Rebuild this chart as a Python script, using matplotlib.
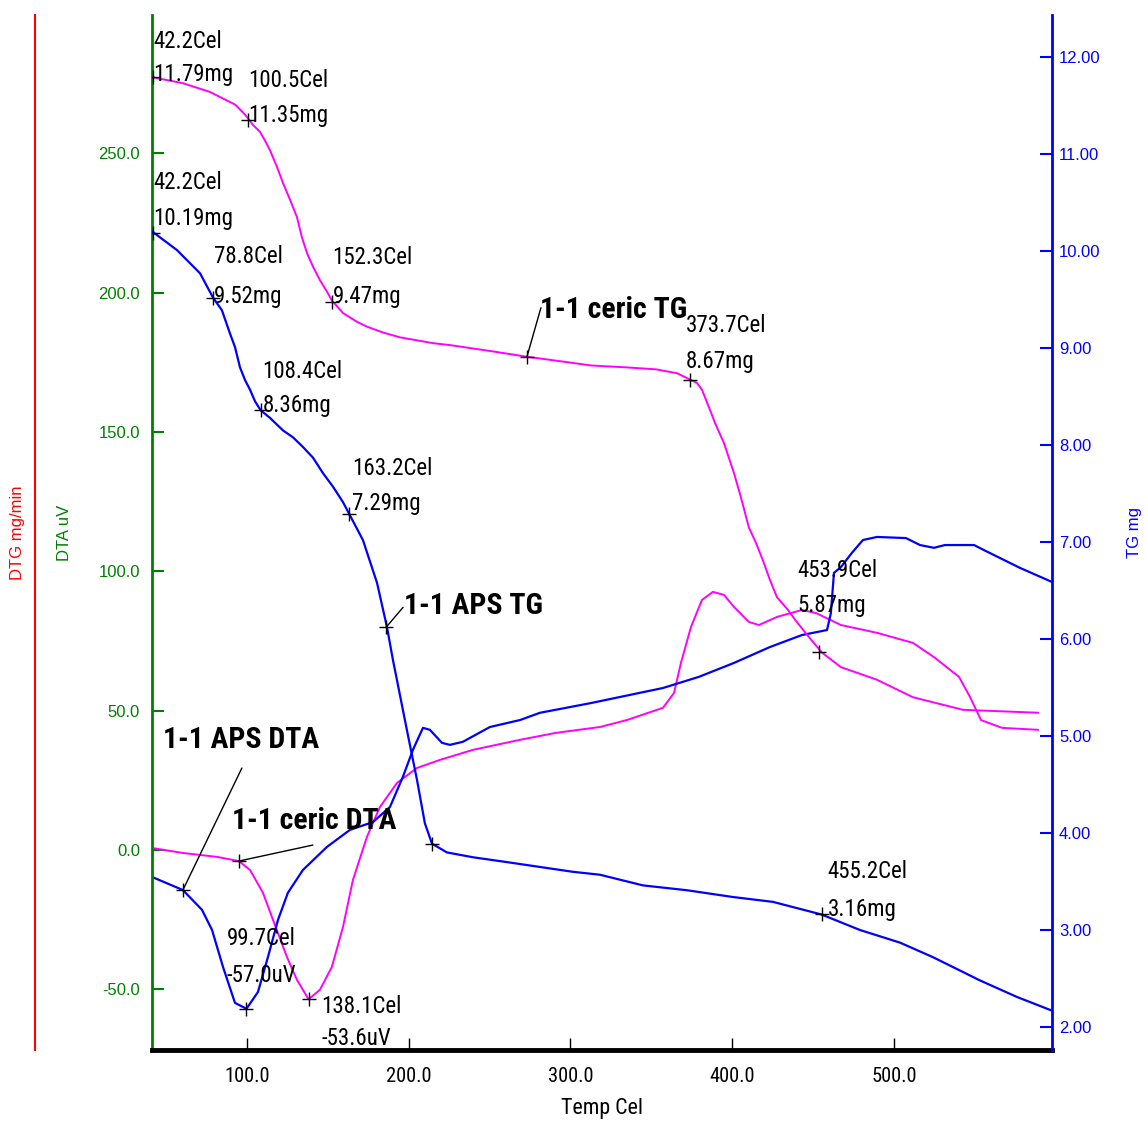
import os
import matplotlib
matplotlib.use('Agg')
import matplotlib.pyplot as plt
from matplotlib import font_manager as fm
from matplotlib.font_manager import FontProperties
from matplotlib.textpath import TextToPath

# ---------------- data ----------------
ceric_tg_T = [41.9, 60.4, 77.1, 92.6, 97.5, 100.6, 103.7, 108, 111.1, 114.2, 118.5, 122.3, 126.6, 130.9,
              134, 137.1, 140.8, 145.1, 149.5, 152.5, 159.4, 168, 174.2, 184.1, 194.6, 215, 225.5, 250,
              273.1, 295.4, 312.7, 334.9, 352.9, 365.9, 374.5, 378.2, 381.3, 385.6, 389.3, 394.9, 401.1,
              405.4, 410.3, 414.7, 419, 423.3, 427.7, 434.5, 438.8, 447.4, 455.5, 467.2, 489.5, 511.7,
              542.7, 589]
ceric_tg = [11.79, 11.73, 11.64, 11.51, 11.43, 11.37, 11.30, 11.23, 11.14, 11.04, 10.87, 10.70, 10.53, 10.35,
            10.14, 9.98, 9.84, 9.70, 9.58, 9.49, 9.36, 9.27, 9.22, 9.16, 9.11, 9.05, 9.03, 8.97,
            8.91, 8.86, 8.82, 8.80, 8.78, 8.74, 8.67, 8.64, 8.57, 8.39, 8.23, 8.02, 7.71,
            7.46, 7.15, 6.99, 6.81, 6.61, 6.43, 6.30, 6.20, 6.02, 5.86, 5.71, 5.58, 5.40,
            5.27, 5.24]

ceric_dta_T = [41.3, 60.4, 81.5, 95.0, 101.9, 109.9, 116.1, 124.7, 130.9, 138.1, 145.1, 152.5, 159.4, 165.5,
               174.2, 182.2, 192.7, 205.1, 219.3, 239.7, 268.8, 291, 318.2, 334.9, 357.2, 364, 368.3, 374.5,
               381.3, 388.1, 394.9, 401.1, 410.3, 416.5, 427.7, 443.1, 451.8, 467.2, 489.5, 511.7, 524.7,
               540.2, 547, 553.8, 566.8, 589]
ceric_dta = [0.7, -1.1, -2.5, -4.0, -7.2, -15.4, -25.1, -38.4, -46.6, -53.6, -50.2, -42, -27.6, -10.8,
             4.7, 15.4, 24, 29.4, 32.3, 35.9, 39.5, 42, 44.1, 46.6, 51, 56.3, 67.1, 80,
             89.7, 92.6, 91.5, 87.2, 81.8, 80.7, 83.6, 86.1, 85, 80.7, 77.9, 74.3, 69.2,
             62.1, 54.9, 46.6, 43.8, 43.1]

aps_tg_T = [41.5, 56.7, 71, 79, 84.5, 89.5, 92.6, 95.7, 98.8, 101.9, 105, 108.4, 114.2, 122.3, 128.4,
            134.6, 140.8, 147, 153.2, 159.4, 163.2, 171.7, 180.4, 186.6, 190.3, 192.7, 198.9, 205.1,
            210.0, 214.4, 223.6, 239.7, 260.7, 301.5, 318.2, 344.8, 372, 400.5, 425.2, 455.2, 479,
            503.7, 524.1, 553.2, 576, 597.5]
aps_tg = [10.20, 10.01, 9.77, 9.52, 9.39, 9.15, 9.01, 8.80, 8.67, 8.57, 8.45, 8.36, 8.28, 8.15, 8.08,
          7.98, 7.87, 7.71, 7.57, 7.41, 7.29, 7.02, 6.58, 6.12, 5.78, 5.58, 5.06, 4.55,
          4.10, 3.89, 3.80, 3.75, 3.70, 3.60, 3.57, 3.46, 3.41, 3.34, 3.29, 3.16, 3.0,
          2.87, 2.72, 2.48, 2.31, 2.17]

aps_dta_T = [41.3, 60.4, 72.2, 78.4, 85.2, 92.6, 99.7, 106.8, 113, 119.2, 125.3, 134.6, 149.5, 163.7, 177.9,
             188.4, 196.4, 202.6, 208.8, 213.1, 220.6, 225.5, 233.5, 250.2, 268.8, 281.1, 312.7, 357.2,
             379.4, 401.1, 423.3, 443.1, 458.6, 461, 462.9, 467.2, 474, 480.8, 489.5, 507.4, 516.1, 524.7,
             531.5, 549.5, 555.6, 577.9, 597.5]
aps_dta = [-9.7, -14.4, -21.5, -28.7, -42.0, -54.9, -57.0, -51, -38.4, -25.1, -15.4, -7.2, 1.1, 7.2, 10.0,
           15.4, 26.2, 35.9, 43.8, 43.1, 38.4, 37.7, 38.8, 44.1, 46.6, 49.2, 52.7, 58.1,
           62.1, 67.1, 72.8, 77.1, 78.9, 85, 99.4, 101.5, 106.6, 111.2, 112.3, 111.9, 109.4, 108.4,
           109.4, 109.4, 107.6, 101.2, 96.2]

# labelled points
label_T = [42.2, 100.5, 42.2, 78.8, 152.3, 373.7, 108.4, 163.2, 453.9, 455.2, 99.7, 138.1]
label_val = [11.79, 11.35, 10.19, 9.52, 9.47, 8.67, 8.36, 7.29, 5.87, 3.16, -57.0, -53.6]
label_unit = ['mg', 'mg', 'mg', 'mg', 'mg', 'mg', 'mg', 'mg', 'mg', 'mg', 'uV', 'uV']

# curve name labels
name_text = ['1-1 ceric TG', '1-1 APS TG', '1-1 APS DTA', '1-1 ceric DTA']
name_T = [273.1, 186.0, 60.4, 95.0]
name_val = [8.91, 6.12, -14.4, -4.0]
name_unit = ['mg', 'mg', 'uV', 'uV']

extra_T = [214.4]
extra_val = [3.89]

x_ticks = [100, 200, 300, 400, 500]
dta_ticks = [-50, 0, 50, 100, 150, 200, 250]
tg_ticks = [2, 3, 4, 5, 6, 7, 8, 9, 10, 11, 12]

# ---------------- fonts ----------------
def find_font(bold):
    prefs = ['liberation sans narrow', 'arial narrow', 'roboto condensed', 'dejavu sans condensed',
             'noto sans condensed', 'open sans condensed', 'liberation sans', 'roboto', 'dejavu sans']
    best, best_score = None, 1e9
    want = 700 if bold else 400
    for f in fm.fontManager.ttflist:
        fn = os.path.basename(f.fname).lower()
        nm = f.name.lower()
        if f.style != 'normal' or 'italic' in fn or 'oblique' in fn:
            continue
        try:
            w = int(f.weight)
        except (TypeError, ValueError):
            w = {'bold': 700, 'normal': 400, 'regular': 400, 'book': 400}.get(str(f.weight).lower(), 0)
        if w != want:
            continue
        if 'extracondensed' in fn or 'ultracondensed' in fn or 'semicondensed' in fn:
            continue
        cond = ('narrow' in fn or 'condensed' in fn or 'narrow' in nm or 'condensed' in nm
                or str(f.stretch) in ('condensed', 'semi-condensed', 'extra-condensed'))
        key = nm
        if cond and 'narrow' not in key and 'condensed' not in key:
            key = key + ' condensed'
        score = prefs.index(key) if key in prefs else (50 if cond else 90)
        if not cond:
            score += 20
        if score < best_score:
            best, best_score = f.fname, score
    if best is None:
        return FontProperties(family='DejaVu Sans', weight='bold' if bold else 'normal')
    return FontProperties(fname=best)

NAR = find_font(False)
NAR_B = find_font(True)
SANS = FontProperties(family=['Liberation Sans', 'DejaVu Sans'])

ttp = TextToPath()

def fitted(prop, sample, target_px, max_pt, boost=1.0):
    p = prop.copy()
    p.set_size(20)
    w, h, d = ttp.get_text_width_height_descent(sample, p, ismath=False)
    size = 20 * target_px / (w * 100 / 72) * boost
    p.set_size(min(size, max_pt))
    return p

P_LAB = fitted(NAR, '100.5Cel', 80, 17)
P_NAME = fitted(NAR_B, '1-1 APS DTA', 156, 27)
P_XT = fitted(NAR, '100.0', 41, 16.5, boost=1.12)
P_XL = fitted(NAR, 'Temp Cel', 82, 16.5)
P_TICK = SANS.copy(); P_TICK.set_size(12)
P_AXL = SANS.copy(); P_AXL.set_size(12)

MAG = '#FF00FF'
BLUE = '#0000FF'
GREEN = '#008000'

# offsets (pixels) of label text lines from their marker: dx, dy line1, dy line2
label_off = [(0, 29, -4), (0, 33, -2), (0, 44, 8), (1, 35, -5), (1, 38, -1), (-4, 48, 12),
             (2, 32, -2), (3, 39, 4), (-22, 75, 40), (6, 36, -2), (-20, 64, 27), (13, -14, -46)]
name_line_off = [(14, 49), (17, 20), (59, 122), (74, 16)]
name_text_off = [(13, 39), (18, 13), (-20, 142), (-7, 32)]

# ---------------- figure ----------------
W, H = 1147, 1122
fig = plt.figure(figsize=(W / 100, H / 100), dpi=100)
L, R, T, B = 152, 1052, 15, 1050
ax = fig.add_axes([L / W, 1 - B / H, (R - L) / W, (B - T) / H])
ax2 = ax.twinx()
ax3 = ax.twinx()

ax.set_xlim(41.3, 597.7)
ax.set_ylim(-71.8, 299.6)
ax2.set_ylim(1.763, 12.433)

ax.plot(ceric_dta_T, ceric_dta, color=MAG, lw=1.4)
ax.plot(aps_dta_T, aps_dta, color=BLUE, lw=1.6)
ax2.plot(ceric_tg_T, ceric_tg, color=MAG, lw=1.4)
ax2.plot(aps_tg_T, aps_tg, color=BLUE, lw=1.6)

for a in (ax, ax2, ax3):
    a.spines['top'].set_visible(False)
ax.spines['left'].set_color(GREEN)
ax.spines['left'].set_linewidth(2)
ax.spines['bottom'].set_color('black')
ax.spines['bottom'].set_linewidth(3.5)
ax.spines['right'].set_visible(False)
ax2.spines['left'].set_visible(False)
ax2.spines['bottom'].set_visible(False)
ax2.spines['right'].set_color(BLUE)
ax2.spines['right'].set_linewidth(2)
ax3.spines['bottom'].set_visible(False)
ax3.spines['right'].set_visible(False)
ax3.spines['left'].set_visible(True)
ax3.spines['left'].set_position(('outward', (L - 35) * 0.72))
ax3.spines['left'].set_color('red')
ax3.spines['left'].set_linewidth(1.5)
ax3.set_yticks([])
ax3.yaxis.set_ticks_position('left')

ax.set_xticks(x_ticks)
ax.set_xticklabels([f'{v:.1f}' for v in x_ticks], fontproperties=P_XT)
ax.tick_params(axis='x', direction='in', length=8.6, width=1, color='black', pad=12)
ax.set_yticks(dta_ticks)
ax.set_yticklabels([f'{v:.1f}' for v in dta_ticks], fontproperties=P_TICK)
ax.tick_params(axis='y', direction='in', length=8.6, width=1.5, colors=GREEN, pad=8.6)
ax2.set_yticks(tg_ticks)
ax2.set_yticklabels([f'{v:.2f}' for v in tg_ticks], fontproperties=P_TICK)
ax2.tick_params(axis='y', direction='in', length=8.6, width=1.5, colors=BLUE, pad=5)

ax.set_xlabel('Temp Cel', fontproperties=P_XL)
ax.xaxis.set_label_coords(0.5, -0.046)
ax.set_ylabel('DTA uV', color=GREEN, fontproperties=P_AXL)
ax.yaxis.set_label_coords(-0.089, 0.5)
ax2.set_ylabel('TG mg', color=BLUE, fontproperties=P_AXL)
ax2.yaxis.set_label_coords(1.083, 0.5)
ax3.yaxis.set_label_position('left')
ax3.set_ylabel('DTG mg/min', color='red', fontproperties=P_AXL)
ax3.yaxis.set_label_coords(-0.141, 0.5)

for t, v, u, (dx, d1, d2) in zip(label_T, label_val, label_unit, label_off):
    a = ax2 if u == 'mg' else ax
    a.plot([t], [v], marker='+', color='black', ms=10, mew=1, zorder=5)
    l1 = f'{t:.1f}Cel'
    l2 = f'{v:.2f}mg' if u == 'mg' else f'{v:.1f}uV'
    for txt, dy in ((l1, d1), (l2, d2)):
        a.annotate(txt, xy=(t, v), xytext=(dx, dy), textcoords='offset pixels',
                   ha='left', va='baseline', fontproperties=P_LAB, color='black',
                   annotation_clip=False)

ax2.plot(extra_T, extra_val, '+', color='black', ms=10, mew=1, zorder=5)

for s, t, v, u, lo, to in zip(name_text, name_T, name_val, name_unit, name_line_off, name_text_off):
    a = ax2 if u == 'mg' else ax
    a.plot([t], [v], marker='+', color='black', ms=10, mew=1, zorder=5)
    a.annotate('', xy=(t, v), xytext=lo, textcoords='offset pixels',
               arrowprops=dict(arrowstyle='-', color='black', lw=1, shrinkA=0, shrinkB=0))
    a.annotate(s, xy=(t, v), xytext=to, textcoords='offset pixels', ha='left', va='baseline',
               fontproperties=P_NAME, color='black')

fig.savefig('out.png', dpi=100)
